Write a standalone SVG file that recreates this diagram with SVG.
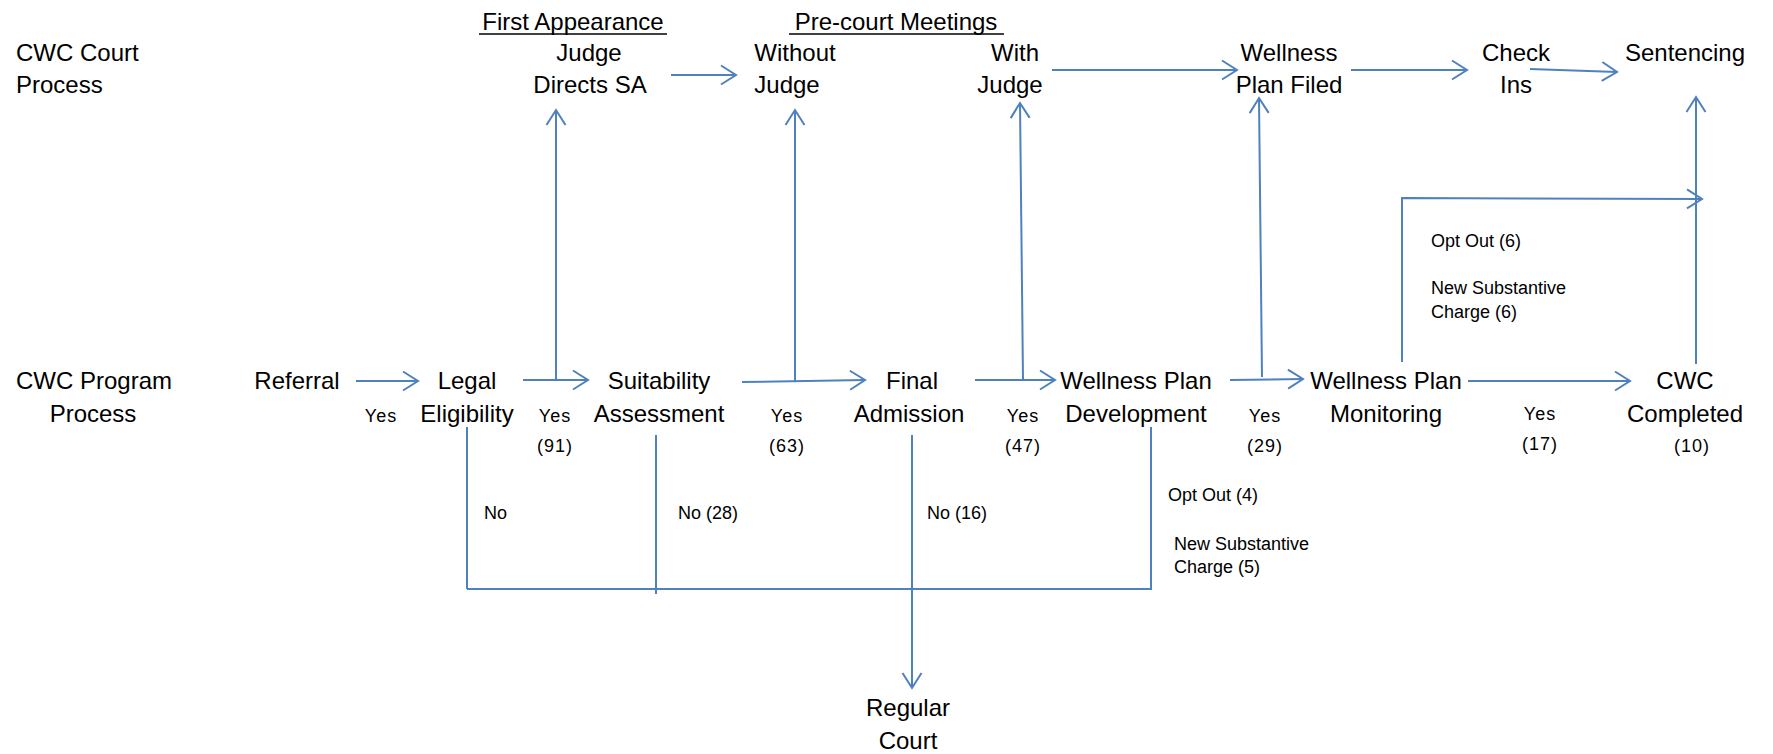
<svg xmlns="http://www.w3.org/2000/svg" width="1773" height="754" viewBox="0 0 1773 754">
<style>
text{font-family:"Liberation Sans",Arial,sans-serif;fill:#000}
.m{font-size:24px;text-anchor:middle}
.l{font-size:24px}
.s{font-size:18px}
.y{font-size:18px;text-anchor:middle;letter-spacing:1px}
.c{stroke:#4F81BD;stroke-width:2;fill:none}
.u{stroke:#000;stroke-width:1.5}
</style>
<defs>
<marker id="a" markerUnits="userSpaceOnUse" markerWidth="20" markerHeight="24" refX="17" refY="12" orient="auto">
<path d="M2,2.5 L17,12 L2,21.5" fill="none" stroke="#4F81BD" stroke-width="2"/>
</marker>
</defs>
<g id="lanes">
<text class="l" x="16" y="61">CWC Court</text>
<text class="l" x="16" y="93">Process</text>
<text class="l" x="16" y="389">CWC Program</text>
<text class="m" x="93" y="422">Process</text>
</g>
<g id="hdr-first">
<text class="m" x="573" y="30">First Appearance</text>
<line class="u" x1="479" y1="34" x2="667" y2="34"/>
</g>
<g id="hdr-precourt">
<text class="m" x="896" y="30">Pre-court Meetings</text>
<line class="u" x1="789" y1="34" x2="1004" y2="34"/>
</g>
<g id="n-judge"><text class="m" x="589" y="61">Judge</text><text class="m" x="590" y="93">Directs SA</text></g>
<g id="n-without"><text class="m" x="795" y="61">Without</text><text class="m" x="787" y="93">Judge</text></g>
<g id="n-with"><text class="m" x="1015" y="61">With</text><text class="m" x="1010" y="93">Judge</text></g>
<g id="n-filed"><text class="m" x="1289" y="61">Wellness</text><text class="m" x="1289" y="93">Plan Filed</text></g>
<g id="n-check"><text class="m" x="1516" y="61">Check</text><text class="m" x="1516" y="93">Ins</text></g>
<g id="n-sent"><text class="m" x="1685" y="61">Sentencing</text></g>
<g id="n-referral"><text class="m" x="297" y="389">Referral</text></g>
<g id="n-legal"><text class="m" x="467" y="389">Legal</text><text class="m" x="467" y="422">Eligibility</text></g>
<g id="n-suit"><text class="m" x="659" y="389">Suitability</text><text class="m" x="659" y="422">Assessment</text></g>
<g id="n-final"><text class="m" x="912" y="389">Final</text><text class="m" x="909" y="422">Admission</text></g>
<g id="n-wpd"><text class="m" x="1136" y="389">Wellness Plan</text><text class="m" x="1136" y="422">Development</text></g>
<g id="n-wpm"><text class="m" x="1386" y="389">Wellness Plan</text><text class="m" x="1386" y="422">Monitoring</text></g>
<g id="n-cwc"><text class="m" x="1685" y="389">CWC</text><text class="m" x="1685" y="422">Completed</text><text class="y" x="1692" y="452">(10)</text></g>
<g id="n-regular"><text class="m" x="908" y="716">Regular</text><text class="m" x="908" y="749">Court</text></g>
<g id="connectors">
<line class="c" x1="356" y1="381" x2="418" y2="381" marker-end="url(#a)"/>
<line class="c" x1="523" y1="380" x2="588" y2="380" marker-end="url(#a)"/>
<line class="c" x1="556" y1="380" x2="556" y2="110" marker-end="url(#a)"/>
<line class="c" x1="742" y1="382" x2="865" y2="380" marker-end="url(#a)"/>
<line class="c" x1="795" y1="381" x2="795" y2="110" marker-end="url(#a)"/>
<line class="c" x1="975" y1="380" x2="1055" y2="380" marker-end="url(#a)"/>
<line class="c" x1="1023" y1="380" x2="1020" y2="103" marker-end="url(#a)"/>
<line class="c" x1="1230" y1="380" x2="1303" y2="379" marker-end="url(#a)"/>
<line class="c" x1="1262" y1="377" x2="1259" y2="98" marker-end="url(#a)"/>
<line class="c" x1="1468" y1="381" x2="1630" y2="381" marker-end="url(#a)"/>
<polyline class="c" points="1402,362 1402,198 1702,199" marker-end="url(#a)"/>
<line class="c" x1="1696" y1="364" x2="1696" y2="97" marker-end="url(#a)"/>
<line class="c" x1="671" y1="75" x2="736" y2="75" marker-end="url(#a)"/>
<line class="c" x1="1052" y1="70" x2="1237" y2="70" marker-end="url(#a)"/>
<line class="c" x1="1351" y1="70" x2="1467" y2="70" marker-end="url(#a)"/>
<line class="c" x1="1530" y1="69" x2="1617" y2="72" marker-end="url(#a)"/>
<line class="c" x1="467" y1="427" x2="467" y2="589"/>
<line class="c" x1="656" y1="435" x2="656" y2="594"/>
<line class="c" x1="1151" y1="427" x2="1151" y2="589"/>
<line class="c" x1="467" y1="589" x2="1152" y2="589"/>
<line class="c" x1="912" y1="435" x2="912" y2="688" marker-end="url(#a)"/>
</g>
<g id="labels">
<text class="y" x="381" y="422">Yes</text>
<text class="y" x="555" y="422">Yes</text><text class="y" x="555" y="452">(91)</text>
<text class="y" x="787" y="422">Yes</text><text class="y" x="787" y="452">(63)</text>
<text class="y" x="1023" y="422">Yes</text><text class="y" x="1023" y="452">(47)</text>
<text class="y" x="1265" y="422">Yes</text><text class="y" x="1265" y="452">(29)</text>
<text class="y" x="1540" y="420">Yes</text><text class="y" x="1540" y="450">(17)</text>
<text class="s" x="484" y="519">No</text>
<text class="s" x="678" y="519">No (28)</text>
<text class="s" x="927" y="519">No (16)</text>
<text class="s" x="1168" y="501">Opt Out (4)</text>
<text class="s" x="1174" y="550">New Substantive</text>
<text class="s" x="1174" y="573">Charge (5)</text>
<text class="s" x="1431" y="247">Opt Out (6)</text>
<text class="s" x="1431" y="294">New Substantive</text>
<text class="s" x="1431" y="318">Charge (6)</text>
</g>
</svg>
